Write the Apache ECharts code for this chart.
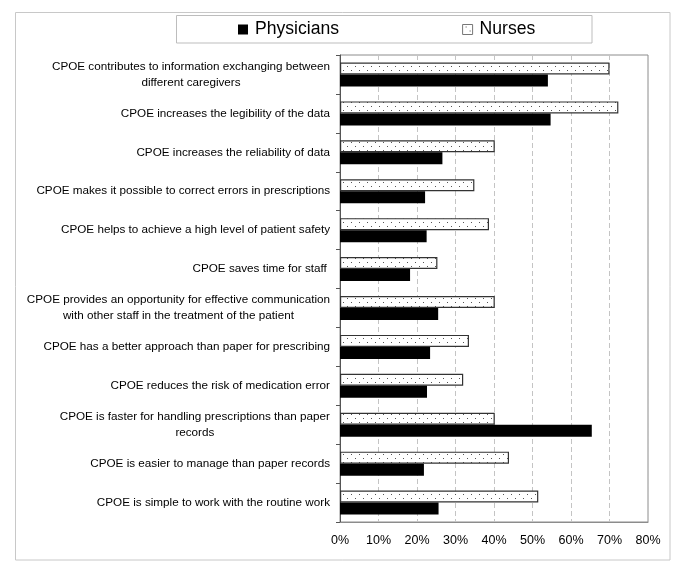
<!DOCTYPE html>
<html>
<head>
<meta charset="utf-8">
<script src="https://cdn.jsdelivr.net/npm/echarts@6/dist/echarts.min.js"></script>
<style>html,body{margin:0;padding:0;background:#fff;}#c{width:685px;height:576px;}</style>
</head>
<body>
<div id="c"></div>
<script>
var categories = [
  'CPOE contributes to information exchanging between\ndifferent caregivers',
  'CPOE increases the legibility of the data',
  'CPOE increases the reliability of data',
  'CPOE makes it possible to correct errors in prescriptions',
  'CPOE helps to achieve a high level of patient safety',
  'CPOE saves time for staff ',
  'CPOE provides an opportunity for effective communication\nwith other staff in the treatment of the patient',
  'CPOE has a better approach than paper for prescribing',
  'CPOE reduces the risk of medication error',
  'CPOE is faster for handling prescriptions than paper\nrecords',
  'CPOE is easier to manage than paper records',
  'CPOE is simple to work with the routine work'
];
var physicians = [54.0, 54.7, 26.6, 22.1, 22.5, 18.2, 25.5, 23.4, 22.6, 65.4, 21.8, 25.6];
var nurses = [70.0, 72.3, 40.2, 34.9, 38.7, 25.3, 40.2, 33.5, 32.0, 40.2, 43.9, 51.5];
var xTicks = [0, 10, 20, 30, 40, 50, 60, 70, 80];

var FONT = '"Liberation Sans", Arial, sans-serif';

// dotted fill pattern for Nurses
var pat = document.createElement('canvas');
pat.width = 8; pat.height = 8;
var pctx = pat.getContext('2d');
pctx.fillStyle = '#fff';
pctx.fillRect(0, 0, 8, 8);
pctx.fillStyle = '#555';
pctx.fillRect(3, 2, 1, 1);
pctx.fillRect(7, 6, 1, 1);

var chart = echarts.init(document.getElementById('c'), null, {renderer: 'canvas'});
chart.setOption({
  animation: false,
  backgroundColor: '#fff',
  graphic: [
    {type: 'rect', shape: {x: 15.5, y: 12.5, width: 654.5, height: 547.5},
     style: {fill: 'none', stroke: '#c8c8c8', lineWidth: 1}, z: 0},
    {type: 'rect', shape: {x: 176.5, y: 15.5, width: 415.5, height: 27.5},
     style: {fill: 'none', stroke: '#bdbdbd', lineWidth: 1}, z: 0}
  ],
  legend: {
    data: [
      {name: 'Physicians'},
      {name: 'Nurses', itemStyle: {borderColor: '#777', borderWidth: 1}}
    ],
    left: 238, top: 20.5,
    padding: 0,
    itemWidth: 10, itemHeight: 10,
    itemGap: 123,
    icon: 'rect',
    textStyle: {fontFamily: FONT, fontSize: 17.6, color: '#000', padding: [0, 0, 0, 2]}
  },
  grid: {
    left: 340, right: 37, top: 55, bottom: 54,
    show: true, borderColor: '#8c8c8c', borderWidth: 1,
    containLabel: false
  },
  xAxis: {
    type: 'value', min: 0, max: 80, interval: 10,
    axisLine: {show: true, lineStyle: {color: '#8c8c8c'}},
    axisTick: {show: false},
    splitLine: {show: true, lineStyle: {color: '#c4c4c4', type: [5, 3]}},
    axisLabel: {
      margin: 12,
      fontFamily: FONT, fontSize: 12.5, color: '#000',
      formatter: function (v) { return xTicks.indexOf(v) >= 0 ? v + '%' : ''; }
    }
  },
  yAxis: {
    type: 'category', inverse: true,
    data: categories,
    axisLine: {show: true, lineStyle: {color: '#555'}},
    axisTick: {show: true, length: 4, interval: 0, lineStyle: {color: '#555'}},
    splitLine: {show: false},
    axisLabel: {
      interval: 0, margin: 10,
      formatter: function (v) {
        return v.split('\n').map(function (l) { return '{c|' + l + '}'; }).join('\n');
      },
      rich: {
        c: {align: 'center', fontFamily: FONT, fontSize: 11.7, lineHeight: 16, color: '#000'}
      }
    }
  },
  series: [
    {
      name: 'Nurses', type: 'bar', data: nurses,
      barWidth: 12, barGap: '0%',
      itemStyle: {color: {image: pat, repeat: 'repeat'}, borderColor: '#333', borderWidth: 1.2},
      emphasis: {disabled: true}
    },
    {
      name: 'Physicians', type: 'bar', data: physicians,
      barWidth: 12, barGap: '0%',
      itemStyle: {color: '#000'},
      emphasis: {disabled: true}
    }
  ]
});
</script>
</body>
</html>
